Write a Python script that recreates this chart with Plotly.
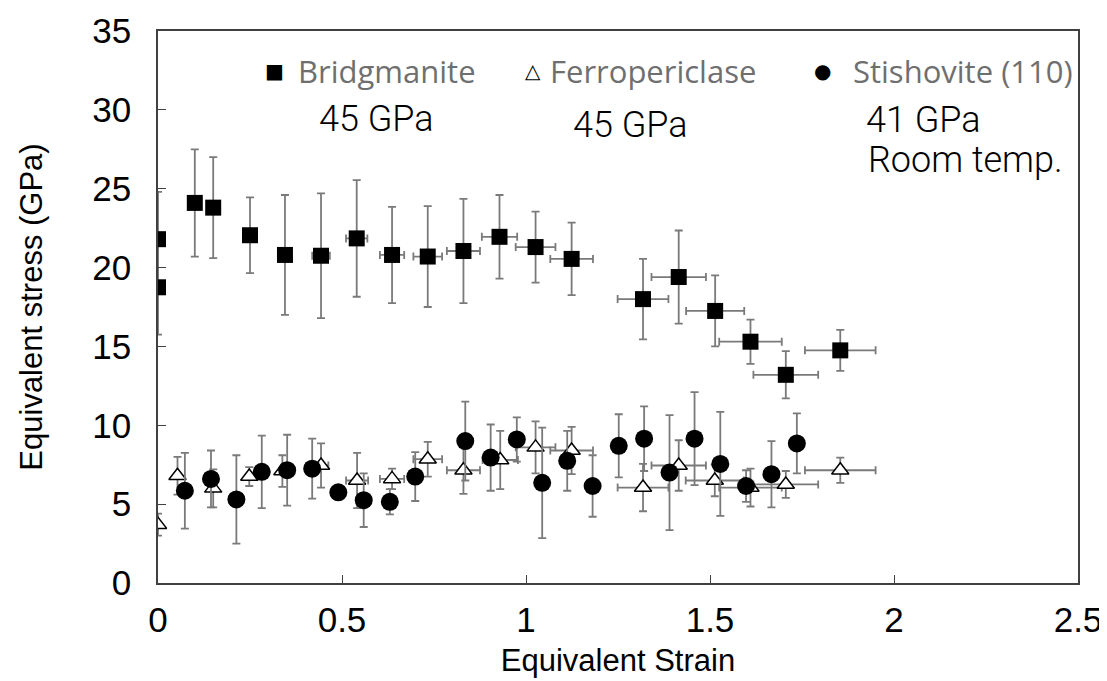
import plotly.graph_objects as go

# Bridgmanite (squares)
bdg_x = [0, 0, 0.10, 0.15, 0.25, 0.345, 0.443, 0.54, 0.636, 0.733, 0.83, 0.928,
         1.026, 1.124, 1.318, 1.415, 1.514, 1.61, 1.706, 1.854]
bdg_y = [21.8, 18.75, 24.1, 23.8, 22.05, 20.8, 20.75, 21.85, 20.8, 20.7, 21.05, 21.95,
         21.3, 20.55, 18.0, 19.4, 17.25, 15.3, 13.2, 14.75]
bdg_yerr = [3.0, 3.0, 3.4, 3.2, 2.4, 3.8, 3.95, 3.7, 3.05, 3.2, 3.3, 2.65,
            2.25, 2.3, 2.55, 2.95, 2.25, 1.4, 1.5, 1.3]
bdg_xerr = [0, 0, 0, 0, 0, 0, 0.024, 0.029, 0.033, 0.039, 0.045, 0.048,
            0.054, 0.058, 0.069, 0.074, 0.079, 0.085, 0.088, 0.096]

# Ferropericlase (open triangles)
fp_x = [0, 0.053, 0.15, 0.248, 0.338, 0.443, 0.541, 0.636, 0.733, 0.83, 0.93,
        1.026, 1.124, 1.318, 1.415, 1.513, 1.61, 1.706, 1.854]
fp_y = [3.7, 6.8, 6.0, 6.75, 7.1, 7.45, 6.5, 6.6, 7.85, 7.15, 7.8,
        8.6, 8.4, 6.05, 7.45, 6.5, 6.05, 6.25, 7.15]
fp_yerr = [0.7, 1.2, 1.2, 0.6, 1.0, 1.4, 1.75, 0.65, 1.1, 1.5, 1.85,
           1.65, 1.5, 1.5, 1.6, 1.0, 1.2, 0.85, 0.8]
fp_xerr = [0, 0, 0, 0, 0, 0.02, 0.03, 0.033, 0.039, 0.045, 0.048,
           0.054, 0.058, 0.069, 0.074, 0.079, 0.085, 0.088, 0.096]

# Stishovite (110) (filled circles)
st_x = [0.073, 0.144, 0.213, 0.282, 0.351, 0.419, 0.49, 0.559, 0.63, 0.699, 0.835, 0.904,
        0.975, 1.044, 1.112, 1.181, 1.252, 1.321, 1.39, 1.458, 1.528, 1.598, 1.667, 1.736]
st_y = [5.85, 6.6, 5.3, 7.05, 7.15, 7.25, 5.75, 5.25, 5.15, 6.75, 9.0, 7.95,
        9.1, 6.35, 7.75, 6.15, 8.7, 9.15, 7.0, 9.15, 7.55, 6.15, 6.9, 8.85]
st_yerr = [2.4, 1.8, 2.8, 2.3, 2.25, 1.9, 0.3, 1.7, 0.8, 1.55, 2.5, 2.1,
           1.4, 3.5, 1.9, 1.95, 2.0, 2.05, 3.65, 2.95, 3.3, 1.0, 2.1, 1.9]

x_ticks = [0, 0.5, 1, 1.5, 2, 2.5]
x_tick_text = ["0", "0.5", "1", "1.5", "2", "2.5"]
y_ticks = [0, 5, 10, 15, 20, 25, 30, 35]

ERR = "#7a7a7a"

fig = go.Figure()
fig.add_trace(go.Scatter(
    x=bdg_x, y=bdg_y, mode="markers", name="Bridgmanite",
    marker=dict(symbol="square", size=16, color="black"),
    error_y=dict(type="data", array=bdg_yerr, color=ERR, thickness=1.8, width=4),
    error_x=dict(type="data", array=bdg_xerr, color=ERR, thickness=1.8, width=4),
))
fig.add_trace(go.Scatter(
    x=fp_x, y=fp_y, mode="markers", name="Ferropericlase",
    marker=dict(symbol="triangle-up", size=15, color="white",
                line=dict(color="black", width=1.5)),
    error_y=dict(type="data", array=fp_yerr, color=ERR, thickness=1.8, width=4),
    error_x=dict(type="data", array=fp_xerr, color=ERR, thickness=1.8, width=4),
))
fig.add_trace(go.Scatter(
    x=st_x, y=st_y, mode="markers", name="Stishovite (110)",
    marker=dict(symbol="circle", size=18, color="black"),
    error_y=dict(type="data", array=st_yerr, color=ERR, thickness=1.8, width=4),
))

GRAY = "#6f6f6f"
LEG_FONT = dict(family="Open Sans, sans-serif", size=31, color=GRAY)
SYM_FONT = dict(family="DejaVu Sans, sans-serif", size=20, color="black")
GPA_FONT = dict(family="Roboto, sans-serif", size=36, color="black", weight=300)

LEG_Y = 0.928
annos = [
    dict(x=0.1266, y=LEG_Y, xanchor="center", text="■", font=SYM_FONT),
    dict(x=0.150, y=LEG_Y, xanchor="left", text="Bridgmanite", font=LEG_FONT),
    dict(x=0.4076, y=LEG_Y, xanchor="center", text="△", font=SYM_FONT),
    dict(x=0.424, y=LEG_Y, xanchor="left", text="Ferropericlase", font=LEG_FONT),
    dict(x=0.7228, y=LEG_Y, xanchor="center", text="●", font=SYM_FONT),
    dict(x=0.9967, y=LEG_Y, xanchor="right", text="Stishovite (110)", font=LEG_FONT),
    dict(x=0.237, y=0.840, xanchor="center", text="45 GPa", font=GPA_FONT),
    dict(x=0.514, y=0.830, xanchor="center", text="45 GPa", font=GPA_FONT),
    dict(x=0.8326, y=0.838, xanchor="center", text="41 GPa", font=GPA_FONT),
    dict(x=0.878, y=0.766, xanchor="center", text="Room temp.", font=GPA_FONT),
]
for a in annos:
    a.update(xref="paper", yref="paper", yanchor="middle", showarrow=False)

TICK_FONT = dict(family="Liberation Sans, Arial, sans-serif", size=35, color="black")
TITLE_FONT = dict(family="Liberation Sans, Arial, sans-serif", size=31, color="black")

fig.update_layout(
    width=1099, height=673,
    margin=dict(l=150, r=29, t=23, b=98),
    paper_bgcolor="white", plot_bgcolor="white",
    showlegend=False,
    annotations=annos,
    xaxis=dict(
        range=[0, 2.5], tickvals=x_ticks, ticktext=x_tick_text,
        automargin=False,
        showgrid=False, zeroline=False,
        showline=True, linecolor="#404040", linewidth=1.5, mirror=True,
        ticks="inside", ticklen=8, tickcolor="#404040",
        tickfont=TICK_FONT, ticklabelstandoff=5,
        title=dict(text="Equivalent Strain", font=TITLE_FONT, standoff=12),
    ),
    yaxis=dict(
        range=[0, 35], tickvals=y_ticks,
        automargin=False,
        showgrid=False, zeroline=False,
        showline=True, linecolor="#404040", linewidth=1.5, mirror=True,
        ticks="inside", ticklen=8, tickcolor="#404040",
        tickfont=TICK_FONT, ticklabelstandoff=18,
        title=dict(text="Equivalent stress (GPa)", font=TITLE_FONT, standoff=40),
    ),
)

fig.write_html("out.html")
